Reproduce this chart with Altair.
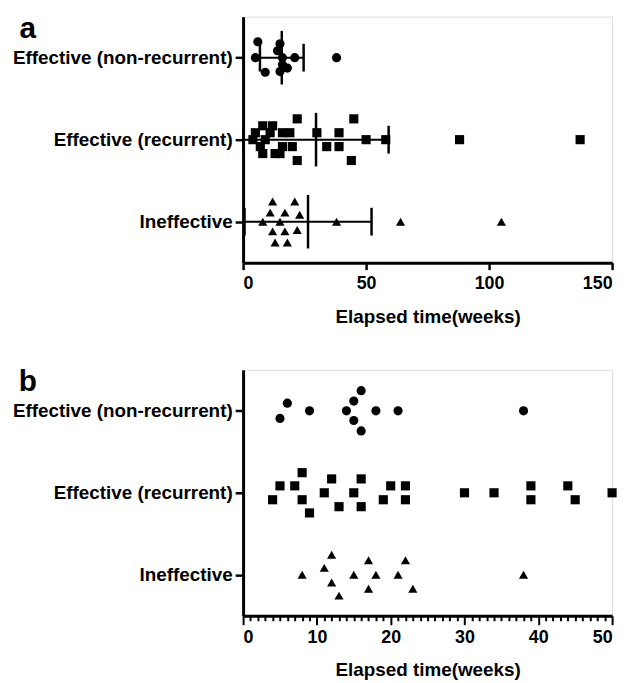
import altair as alt
import pandas as pd

groups = ["Effective (non-recurrent)", "Effective (recurrent)", "Ineffective"]
shapes = ["circle", "square", "triangle-up"]

nonrec_weeks = [5, 6, 9, 14, 15, 15, 16, 16, 18, 21, 38]
nonrec_lane_a = [0, -2.3, 2.1, -1, -2, 2, 0, 1, 1.5, 0, 0]
nonrec_lane_b = [1.1, -1.1, 0, 0, -1.4, 1.4, -2.9, 2.9, 0, 0, 0]

rec_weeks = [4, 5, 7, 8, 8, 9, 11, 12, 13, 15, 16, 16, 19, 20, 22, 22, 30, 34, 39, 39, 44, 45, 50, 58, 88, 137]
rec_lane_a = [0, -1, 1, -2, 2, 0, -1, -2, 2, 2, -1, 1, -1, 1, -3, 3, -1, 1, -1, 1, 3, -3, 0, 0, 0, 0]
rec_lane_b = [1, -1, -1, -2.9, 1, 2.9, 0, -2, 2, 0, -2, 2, 1, -1, -1, 1, 0, 0, -1, 1, -1, 1, 0, 0, 0, 0]

ineff_weeks = [8, 11, 12, 12, 13, 15, 17, 17, 18, 21, 22, 23, 38, 64, 105]
ineff_lane_a = [0, -1.3, -2.9, 1.4, 3, 0, -1.3, 1.4, 3, -2.9, 1.2, -1, 0, 0, 0]
ineff_lane_b = [0, -1, -2.9, 1.1, 3, 0, -2.1, 2, 0, 0, -2.1, 2, 0, 0, 0]

panel_labels = ["a", "b"]
x_title = "Elapsed time(weeks)"

rows = []
for g, ws, la, lb in [
    (groups[0], nonrec_weeks, nonrec_lane_a, nonrec_lane_b),
    (groups[1], rec_weeks, rec_lane_a, rec_lane_b),
    (groups[2], ineff_weeks, ineff_lane_a, ineff_lane_b),
]:
    for w, a, b in zip(ws, la, lb):
        rows.append({"group": g, "weeks": w, "lane_a": a, "lane_b": b})
df = pd.DataFrame(rows)

FONT = "Liberation Sans"

y_enc = alt.Y(
    "group:N",
    sort=groups,
    scale=alt.Scale(type="point", padding=0.5),
    axis=alt.Axis(
        title=None, labelFontSize=19, labelFontWeight="bold", labelFont=FONT,
        labelColor="black", tickSize=8, tickWidth=2.5, tickColor="black",
        domainWidth=3, domainColor="black", labelPadding=3, labelLimit=400, grid=False,
    ),
)
shape_enc = alt.Shape("group:N", scale=alt.Scale(domain=groups, range=shapes), legend=None)


def x_axis_a():
    return alt.Axis(
        values=[0, 50, 100, 150], tickSize=7, tickWidth=2.5, tickColor="black",
        domainWidth=3, domainColor="black", labelFontSize=18, labelFontWeight="bold",
        labelFont=FONT, labelColor="black", labelPadding=5, title=x_title,
        titleFontSize=19, titleFontWeight="bold", titleFont=FONT, titleColor="black",
        titlePadding=15, grid=False,
    )


def x_axis_b():
    return alt.Axis(
        values=list(range(0, 51)),
        tickSize={"condition": {"test": "datum.value % 10 === 0", "value": 9}, "value": 5},
        tickWidth=2, tickColor="black",
        labelExpr="datum.value % 10 === 0 ? datum.label : ''", labelOverlap=False,
        domainWidth=3, domainColor="black", labelFontSize=18, labelFontWeight="bold",
        labelFont=FONT, labelColor="black", labelPadding=4, title=x_title,
        titleFontSize=19, titleFontWeight="bold", titleFont=FONT, titleColor="black",
        titlePadding=14, grid=False,
    )


def panel_text(label):
    return alt.Chart(pd.DataFrame({"p": [label]})).mark_text(
        font=FONT, fontSize=30, fontWeight="bold", color="black", align="center", baseline="middle"
    ).encode(text="p:N", x=alt.value(-217), y=alt.value(12))


W, H = 372, 248
off_scale = alt.Scale(domain=[-3, 3], range=[-21, 21])

# Panel a
xa = alt.X("weeks:Q", scale=alt.Scale(domain=[0, 150], nice=False, zero=True), axis=x_axis_a())
pts_a = alt.Chart(df).mark_point(filled=True, size=85, color="black", opacity=1, strokeWidth=0).encode(
    x=xa, y=y_enc, shape=shape_enc,
    yOffset=alt.YOffset("lane_a:Q", scale=off_scale),
)
err = alt.Chart(df).transform_aggregate(
    m="mean(weeks)", s="stdev(weeks)", groupby=["group"]
).transform_calculate(lo="datum.m - datum.s", hi="datum.m + datum.s")
hline = err.mark_rule(strokeWidth=2, color="black").encode(x=alt.X("lo:Q"), x2="hi:Q", y=y_enc)
mean_tick = err.mark_tick(size=54, thickness=2.5, color="black", opacity=1).encode(x="m:Q", y=y_enc)
caps = err.transform_fold(["lo", "hi"]).mark_tick(size=28, thickness=2.5, color="black", opacity=1).encode(
    x="value:Q", y=y_enc
)
panel_a = alt.layer(pts_a, hline, mean_tick, caps, panel_text("a")).properties(width=W, height=H)

# Panel b
xb = alt.X("weeks:Q", scale=alt.Scale(domain=[0, 50], nice=False, zero=True), axis=x_axis_b())
pts_b = alt.Chart(df).transform_filter("datum.weeks <= 50").mark_point(
    filled=True, size=85, color="black", opacity=1, strokeWidth=0
).encode(
    x=xb, y=y_enc, shape=shape_enc,
    yOffset=alt.YOffset("lane_b:Q", scale=off_scale),
)
panel_b = alt.layer(pts_b, panel_text("b")).properties(width=W, height=H)

chart = alt.vconcat(panel_a, panel_b, spacing=39).properties(
    padding={"left": 3, "top": 2, "right": 5, "bottom": 0}
).configure_view(stroke=None).configure(background="white")

chart.save("out.html", embed_options={"renderer": "svg", "actions": False})
